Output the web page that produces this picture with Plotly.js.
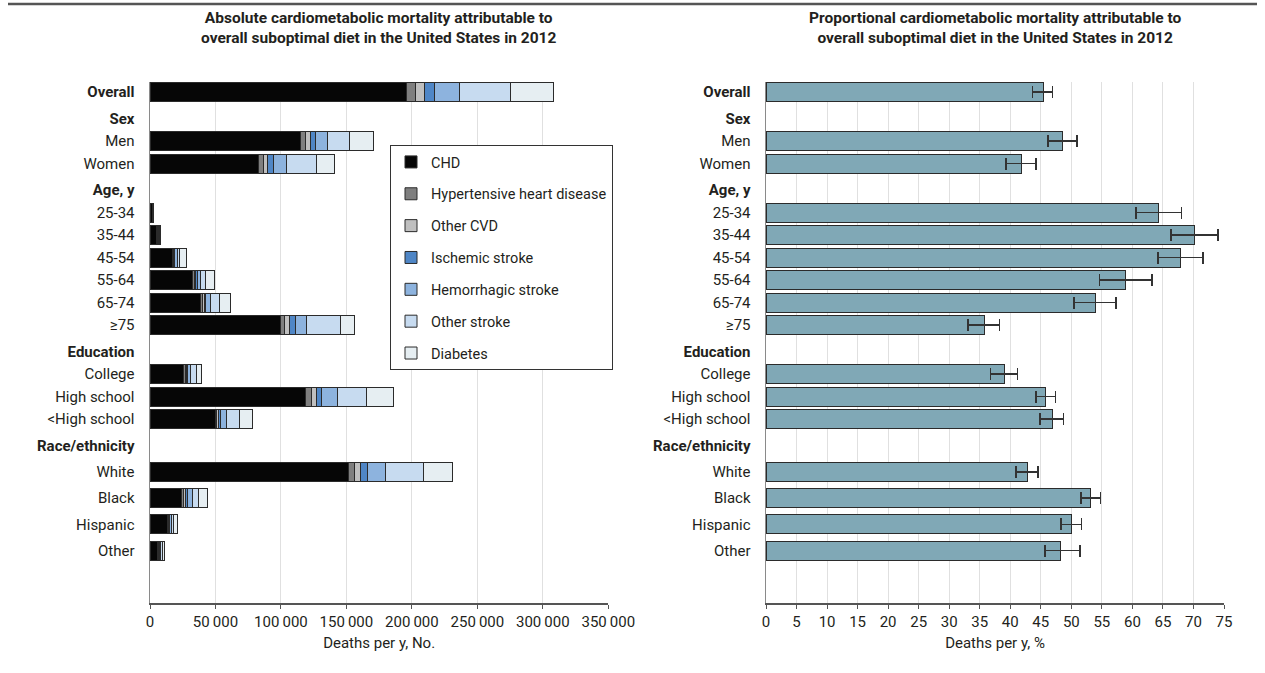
<!DOCTYPE html>
<html>
<head>
<meta charset="utf-8">
<script src="https://cdn.plot.ly/plotly-3.0.1.min.js"></script>
<style>html,body{margin:0;padding:0;background:#fff;}#chart{width:1265px;height:673px;}</style>
</head>
<body>
<div id="chart"></div>
<script>
// ---- Data ----
const categories = ['Overall','Sex','Men','Women','Age, y','25-34','35-44','45-54','55-64','65-74','≥75',
  'Education','College','High school','<High school','Race/ethnicity','White','Black','Hispanic','Other'];
const headerRows = ['Overall','Sex','Age, y','Education','Race/ethnicity'];
const groupHeaders = ['Sex','Age, y','Education','Race/ethnicity'];

const seriesNames = ['CHD','Hypertensive heart disease','Other CVD','Ischemic stroke','Hemorrhagic stroke','Other stroke','Diabetes'];
// absolute deaths per year (thousands), null for header rows
const chd        = [196, null, 115.0, 82.9, null, 1.9, 5.2, 17.3, 32.1, 38.7, 100.0, null, 25.4, 119.1, 49.9, null, 151.6, 24.4, 13.2, 5.6];
const hypert     = [7,   null, 4.1,   3.4,  null, 0.1, 0.6, 0.5,  1.7,  1.5,  2.8,   null, 1.6,  4.1,   1.2,  null, 4.6,   1.3,  0.4,  0.6];
const otherCvd   = [7,   null, 3.8,   3.5,  null, 0.1, 0.4, 0.4,  1.3,  1.5,  4.1,   null, 0.7,  4.0,   1.2,  null, 4.9,   1.3,  0.5,  0.5];
const ischemic   = [7,   null, 3.3,   4.6,  null, 0.05,0.2, 0.8,  1.3,  1.0,  4.3,   null, 1.0,  4.1,   1.5,  null, 4.8,   1.8,  0.8,  0.5];
const hemorrhag  = [19,  null, 9.4,   9.9,  null, 0.1, 0.5, 1.9,  2.0,  3.6,  8.1,   null, 2.1,  12.0,  4.5,  null, 14.0,  3.3,  1.6,  1.0];
const otherStroke= [39,  null, 16.6,  22.7, null, 0.05,0.3, 2.0,  3.8,  6.9,  26.5,  null, 4.6,  22.1,  10.4, null, 29.3,  4.8,  1.8,  1.2];
const diabetes   = [33,  null, 18.8,  14.2, null, 0.1, 0.7, 4.6,  7.2,  8.4,  10.4,  null, 4.0,  20.6,  9.2,  null, 22.1,  6.9,  2.6,  1.5];
const absSeries = [chd, hypert, otherCvd, ischemic, hemorrhag, otherStroke, diabetes];

// proportional mortality (%) with 95% UI
const pctValue = [45.4, null, 48.6, 41.8, null, 64.2, 70.2, 67.8, 58.8, 54.0, 35.7, null, 39.1, 45.7, 46.9, null, 42.8, 53.2, 50.0, 48.2];
const pctLow   = [43.6, null, 46.2, 39.3, null, 60.6, 66.3, 64.2, 54.6, 50.4, 33.1, null, 36.8, 44.2, 44.9, null, 40.9, 51.6, 48.3, 45.7];
const pctHigh  = [46.9, null, 50.9, 44.2, null, 68.0, 74.0, 71.6, 63.2, 57.3, 38.2, null, 41.2, 47.4, 48.7, null, 44.5, 54.8, 51.7, 51.4];

const absTicks = [0, 50000, 100000, 150000, 200000, 250000, 300000, 350000];
const pctTicks = [0,5,10,15,20,25,30,35,40,45,50,55,60,65,70,75];

// ---- Styles ----
const colors = ['#060606','#7f7f7f','#bfbfbf','#4f86c6','#8db3de','#c7dbf0','#e6eef2'];
const FONT = 'Roboto, "DejaVu Sans", sans-serif';
const TXT = '#231f20';

// row positions (layout units = px in plot), computed from the row structure
const rowPos = [];
{
  let y = 92;
  categories.forEach((c, i) => {
    if (i > 0) {
      let step = 22.5;
      if (groupHeaders.includes(c)) step = 26.5;
      if (i > categories.indexOf('Race/ethnicity')) step = 26.3;
      y += step;
    }
    rowPos.push(y);
  });
}
const tickText = categories.map(c => headerRows.includes(c) ? '<b>' + c + '</b>' : c);

const traces = [];
absSeries.forEach((s, k) => {
  traces.push({
    type: 'bar', orientation: 'h',
    name: seriesNames[k], legendgroup: 'g' + k,
    x: s.map(v => v == null ? null : v * 1000), y: rowPos,
    width: 19,
    marker: {color: colors[k], line: {color: '#2b2b2b', width: 1}},
    xaxis: 'x', yaxis: 'y',
    hoverinfo: 'x+name'
  });
});
traces.push({
  type: 'bar', orientation: 'h', showlegend: false,
  x: pctValue, y: rowPos, width: 19,
  marker: {color: '#80a8b6', line: {color: '#2b2b2b', width: 1}},
  error_x: {type: 'data', symmetric: false,
    array: pctValue.map((v, i) => v == null ? null : pctHigh[i] - v),
    arrayminus: pctValue.map((v, i) => v == null ? null : v - pctLow[i]),
    color: '#333', thickness: 1.5, width: 6},
  xaxis: 'x2', yaxis: 'y2'
});

const yCommon = {
  range: [603, 82], autorange: false,
  tickvals: rowPos, ticktext: tickText,
  showgrid: false, zeroline: false,
  showline: true, linecolor: '#8a8a8a', linewidth: 1.5,
  ticks: '', ticklabelstandoff: 11,
  tickfont: {family: FONT, size: 15, color: TXT}
};
const xCommon = {
  showgrid: true, gridcolor: '#e0e0e0', gridwidth: 1,
  zeroline: false, showline: true, linecolor: '#555', linewidth: 1.5,
  ticks: 'outside', ticklen: 4, tickcolor: '#555', tickwidth: 1,
  tickfont: {family: FONT, size: 15, color: TXT},
  autorange: false
};

const W = 1265, L = 150, R = 41;
const plotW = W - L - R;
const px = p => (p - L) / plotW;

const layout = {
  width: 1265, height: 673,
  margin: {l: L, r: R, t: 82, b: 70},
  paper_bgcolor: '#fff', plot_bgcolor: '#fff',
  font: {family: FONT, color: TXT},
  separators: '.\u2009',
  barmode: 'stack',
  bargap: 0,
  xaxis: Object.assign({}, xCommon, {
    domain: [0, px(608.3)], range: [0, 350000],
    tickvals: absTicks, tickformat: ',d',
    title: {text: 'Deaths per y, No.', font: {family: FONT, size: 15, color: TXT}, standoff: 8},
    anchor: 'y'
  }),
  xaxis2: Object.assign({}, xCommon, {
    domain: [px(766), 1], range: [0, 75],
    tickvals: pctTicks,
    title: {text: 'Deaths per y, %', font: {family: FONT, size: 15, color: TXT}, standoff: 8},
    anchor: 'y2'
  }),
  yaxis: Object.assign({}, yCommon, {anchor: 'x'}),
  yaxis2: Object.assign({}, yCommon, {anchor: 'x2'}),
  legend: {
    x: px(390), y: (603 - 145) / 521, xanchor: 'left', yanchor: 'top',
    bgcolor: '#fff', bordercolor: '#333', borderwidth: 1,
    font: {family: FONT, size: 14.5, color: TXT},
    traceorder: 'grouped', tracegroupgap: 10
  },
  annotations: [
    {text: '<b>Absolute cardiometabolic mortality attributable to<br>overall suboptimal diet in the United States in 2012</b>',
     xref: 'paper', yref: 'paper', x: px((150 + 608.3) / 2), y: (603 - 28.5) / 521,
     xanchor: 'center', yanchor: 'middle', showarrow: false,
     font: {family: FONT, size: 15.5, color: TXT}},
    {text: '<b>Proportional cardiometabolic mortality attributable to<br>overall suboptimal diet in the United States in 2012</b>',
     xref: 'paper', yref: 'paper', x: px((766 + 1224) / 2), y: (603 - 28.5) / 521,
     xanchor: 'center', yanchor: 'middle', showarrow: false,
     font: {family: FONT, size: 15.5, color: TXT}}
  ],
  shapes: [
    {type: 'line', xref: 'paper', yref: 'paper',
     x0: px(8), x1: px(1257), y0: (603 - 4) / 521, y1: (603 - 4) / 521,
     line: {color: '#555', width: 2.5}}
  ]
};

Plotly.newPlot('chart', traces, layout, {displayModeBar: false, staticPlot: true});
</script>
</body>
</html>
